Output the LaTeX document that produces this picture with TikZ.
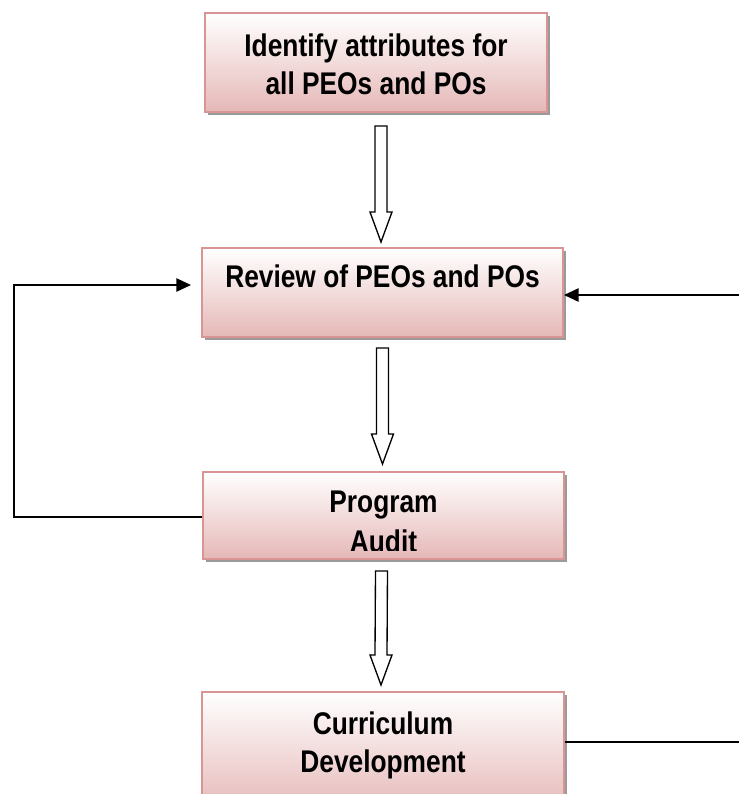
\documentclass[tikz,border=0pt]{standalone}
\usepackage{fontspec}
\usepackage{tikz}
\usetikzlibrary{arrows.meta,calc,shadows}
\newfontfamily\flowfont[FakeStretch=0.84]{Liberation Sans}
\definecolor{boxline}{HTML}{D99594}
\definecolor{boxpink}{HTML}{E5B8B7}
\definecolor{shadowgray}{HTML}{9A9A9A}

\tikzset{
  flowbox/.style={rectangle,draw=boxline,line width=1.5pt,top color=white,bottom color=boxpink,
    general shadow={fill=shadowgray,shadow xshift=2.2pt,shadow yshift=-2.2pt},inner sep=0pt},
  flowtext/.style={font=\flowfont\bfseries\fontsize{23.5pt}{28.5pt}\selectfont,align=center,inner sep=0pt},
  feedback/.style={line width=1.1pt,-{Triangle[length=11pt,width=10pt]}},
  hollow/.style={line width=1pt,fill=white,line join=miter}
}
% hollow block arrow from top point to tip point
\newcommand{\hollowdown}[2]{%
  \draw[hollow] ($(#1)+(-6,0)$) -- ($(#1)+(6,0)$) -- ($(#2)+(6,-30)$) -- ($(#2)+(11,-30)$)
    -- (#2) -- ($(#2)+(-11,-30)$) -- ($(#2)+(-6,-30)$) -- cycle;}

\begin{document}
\begin{tikzpicture}[x=0.75pt,y=-0.75pt]
  \clip (0,0) rectangle (739,794);

  % boxes
  \node[flowbox,minimum width=256.5pt,minimum height=74.25pt] (ident) at (376,62.5) {};
  \node[flowbox,minimum width=270.75pt,minimum height=66.75pt] (rev) at (382.5,292.5) {};
  \node[flowbox,minimum width=270.75pt,minimum height=65.25pt] (aud) at (383.5,515.5) {};
  \node[flowbox,minimum width=271.5pt,minimum height=90pt] (cur) at (383,752) {};

  % texts
  \node[flowtext] (identtxt) at ($(ident)+(0,2)$) {Identify attributes for\\all PEOs and POs};
  \node[flowtext] (revtxt) at ($(rev)+(0,-16)$) {Review of PEOs and POs};
  \begin{scope}
    \clip ($(aud.north west)+(2,2)$) rectangle ($(aud.south east)+(-2,-10)$);
    \node[flowtext] (audtxt) at ($(aud)+(0,6.5)$) {Program\\[1.5pt]Audit};
  \end{scope}
  \node[flowtext] (curtxt) at ($(cur)+(0,-7)$) {Curriculum\\Development};

  % block arrows
  \coordinate (a1top) at ($(ident.south)+(5,13)$);
  \coordinate (a1tip) at ($(rev.north)+(-1.5,-5)$);
  \coordinate (a2top) at ($(rev.south)+(0,10)$);
  \coordinate (a2tip) at ($(aud.north)+(-1,-7)$);
  \coordinate (a3top) at ($(aud.south)+(-2,11)$);
  \coordinate (a3tip) at ($(cur.north)+(-2,-6)$);
  \hollowdown{a1top}{a1tip}
  \hollowdown{a2top}{a2tip}
  \hollowdown{a3top}{a3tip}

  % feedback lines
  \coordinate (loopleft) at (14,285);
  \coordinate (inright) at (739,295);
  \coordinate (outright) at (739,742);
  \draw[feedback] ($(aud.west)+(0,1.5)$) -| (loopleft) -- ($(rev.west)+(-10,-7.5)$);
  \draw[feedback] (inright) -- (rev.east |- inright);
  \draw[line width=1.1pt] (cur.east |- outright) -- (outright);
\end{tikzpicture}
\end{document}
